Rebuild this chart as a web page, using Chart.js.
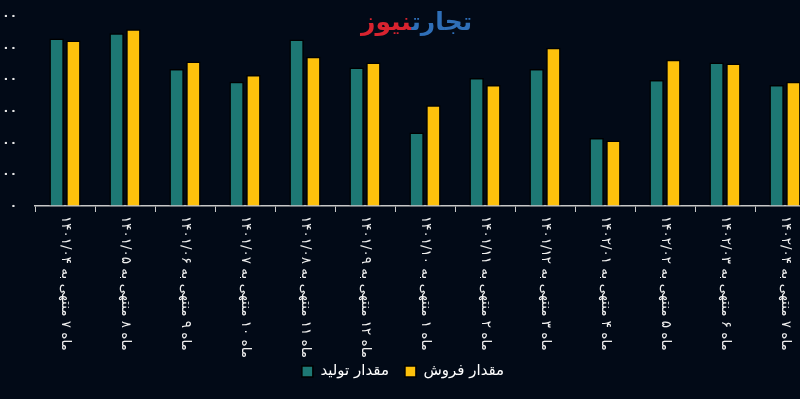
<!DOCTYPE html>
<html>
<head>
<meta charset="utf-8">
<script src="https://cdn.jsdelivr.net/npm/chart.js@4"></script>
<style>
  html, body { margin: 0; padding: 0; background: #020a17; overflow: hidden; }
  body { width: 800px; height: 399px; position: relative; }
  #wrap { position: absolute; left: -25px; top: 0; width: 840px; height: 399px; }
  #mark {
    position: absolute; left: 361px; top: 7px; direction: rtl;
    font: bold 25px "DejaVu Sans", sans-serif;
  }
  #mark .a { color: #2f6fb8; }
  #mark .b { color: #d8232f; }
</style>
</head>
<body>
<div id="wrap"><canvas id="chart"></canvas></div>
<div id="mark"><span class="a">تجارت</span><span class="b">نیوز</span></div>
<script>
var labels = [
  'ماه ۷ منتهی به ۱۴۰۱/۰۴',
  'ماه ۸ منتهی به ۱۴۰۱/۰۵',
  'ماه ۹ منتهی به ۱۴۰۱/۰۶',
  'ماه ۱۰ منتهی به ۱۴۰۱/۰۷',
  'ماه ۱۱ منتهی به ۱۴۰۱/۰۸',
  'ماه ۱۲ منتهی به ۱۴۰۱/۰۹',
  'ماه ۱ منتهی به ۱۴۰۱/۱۰',
  'ماه ۲ منتهی به ۱۴۰۱/۱۱',
  'ماه ۳ منتهی به ۱۴۰۱/۱۲',
  'ماه ۴ منتهی به ۱۴۰۲/۰۱',
  'ماه ۵ منتهی به ۱۴۰۲/۰۲',
  'ماه ۶ منتهی به ۱۴۰۲/۰۳',
  'ماه ۷ منتهی به ۱۴۰۲/۰۴'
];
var production = [5290, 5455, 4330, 3920, 5255, 4370, 2325, 4045, 4330, 2145, 3980, 4530, 3820];
var sales      = [5225, 5585, 4565, 4140, 4715, 4530, 3185, 3820, 5000, 2070, 4620, 4500, 3925];
var yTicks = [0, 1000, 2000, 3000, 4000, 5000, 6000];

function faDigits(s) {
  return String(s).replace(/[0-9]/g, function (d) { return '۰۱۲۳۴۵۶۷۸۹'[d]; });
}

// x labels are drawn rotated clockwise, reading top to bottom
var rotatedLabels = {
  id: 'rotatedLabels',
  afterDraw: function (chart) {
    var xs = chart.scales.x, ctx = chart.ctx;
    ctx.save();
    ctx.font = '13.5px "DejaVu Sans", sans-serif';
    ctx.fillStyle = '#f0f0f0';
    ctx.textBaseline = 'middle';
    ctx.textAlign = 'left';
    for (var i = 0; i < labels.length; i++) {
      ctx.save();
      ctx.translate(xs.getPixelForTick(i), xs.top + 10);
      ctx.rotate(Math.PI / 2);
      ctx.fillText(labels[i], 0, 0);
      ctx.restore();
    }
    ctx.restore();
  }
};

new Chart(document.getElementById('chart'), {
  type: 'bar',
  data: {
    labels: labels,
    datasets: [
      {
        label: 'مقدار تولید',
        data: production,
        backgroundColor: '#1d7874',
        borderColor: '#000000',
        borderWidth: 1.5,
        borderSkipped: 'bottom',
        categoryPercentage: 0.56,
        barPercentage: 0.86
      },
      {
        label: 'مقدار فروش',
        data: sales,
        backgroundColor: '#fdc10c',
        borderColor: '#000000',
        borderWidth: 1.5,
        borderSkipped: 'bottom',
        categoryPercentage: 0.56,
        barPercentage: 0.86
      }
    ]
  },
  options: {
    responsive: true,
    maintainAspectRatio: false,
    animation: false,
    layout: { padding: { top: 16, bottom: 10, left: 16, right: 0 } },
    plugins: {
      legend: {
        position: 'bottom',
        labels: {
          color: '#ffffff',
          font: { family: '"DejaVu Sans", sans-serif', size: 15 },
          boxWidth: 11,
          boxHeight: 11,
          padding: 16
        }
      },
      tooltip: { enabled: false }
    },
    scales: {
      x: {
        afterFit: function (s) { s.height = 142; },
        grid: { offset: true, drawOnChartArea: false, drawTicks: true, tickLength: 6, color: '#c8c8c8' },
        border: { display: true, color: '#c8c8c8', width: 1.5 },
        ticks: { display: false }
      },
      y: {
        min: 0,
        max: 6000,
        afterFit: function (s) { s.width = 44; },
        afterBuildTicks: function (s) { s.ticks = yTicks.map(function (v) { return { value: v }; }); },
        grid: { display: true, drawOnChartArea: false, drawTicks: true, tickLength: 14, color: 'transparent' },
        border: { display: false },
        ticks: {
          padding: 4,
          color: '#e6e6e6',
          font: { family: '"DejaVu Sans", sans-serif', size: 12, weight: 'bold' },
          callback: function (v) { return faDigits(v); }
        }
      }
    }
  },
  plugins: [rotatedLabels]
});
</script>
</body>
</html>
